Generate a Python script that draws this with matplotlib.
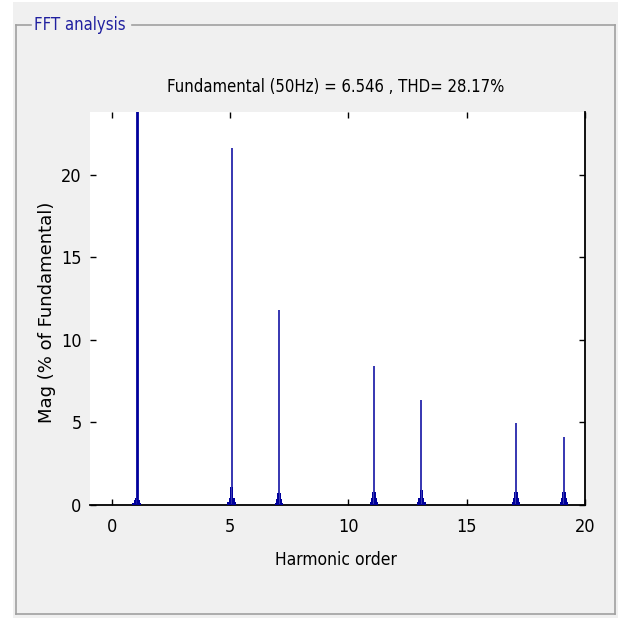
import matplotlib
matplotlib.use("Agg")
import matplotlib.pyplot as plt
from matplotlib.patches import Rectangle
from matplotlib.lines import Line2D
from matplotlib import font_manager

# ---- data ----
harmonics = [1, 5, 7, 11, 13, 17, 19]
peak_positions = [1.04, 5.06, 7.07, 11.07, 13.08, 17.08, 19.1]
magnitudes = [100.0, 21.6, 11.8, 8.4, 6.35, 4.95, 4.1]
skirt_inner = [0.4, 1.1, 0.7, 0.8, 0.9, 0.8, 0.8]
skirt_mid = [0.3, 0.4, 0.35, 0.4, 0.4, 0.45, 0.4]
skirt_outer = [0.15, 0.2, 0.15, 0.2, 0.2, 0.2, 0.2]
x_ticks = [0, 5, 10, 15, 20]
y_ticks = [0, 5, 10, 15, 20]
title_text = "Fundamental (50Hz) = 6.546 , THD= 28.17%"
panel_title = "FFT analysis"
x_label = "Harmonic order"
y_label = "Mag (% of Fundamental)"

names = {f.name for f in font_manager.fontManager.ttflist}
if "Liberation Sans Narrow" in names:
    NARROW = dict(family="Liberation Sans Narrow")
else:
    NARROW = dict(family="DejaVu Sans", stretch="condensed")

BLUE = "#00009C"

W, H = 618, 621
fig = plt.figure(figsize=(W / 100, H / 100), dpi=100, facecolor="white")

def fx(px):
    return px / W

def fy(py):
    return 1 - py / H

# gray panel background
fig.patches.append(Rectangle((fx(13), fy(618)), fx(618) - fx(13), fy(2) - fy(618),
                             transform=fig.transFigure, facecolor="#F0F0F0",
                             edgecolor="none", zorder=-5))
# group box lines
gc = "#A0A0A0"
for xs, ys in (([16, 16], [25, 614]), ([16, 615], [614, 614]), ([615, 615], [25, 614]),
               ([16, 31], [25, 25]), ([132, 615], [25, 25])):
    fig.add_artist(Line2D([fx(v) for v in xs], [fy(v) for v in ys], color=gc, lw=1.2,
                          transform=fig.transFigure, zorder=-4))
fig.text(fx(34), fy(25), panel_title, color="#2020A0", fontsize=12,
         va="center", ha="left", **NARROW)

ax = fig.add_axes([fx(90), fy(505), fx(585) - fx(90), fy(112) - fy(505)])
ax.set_zorder(2)
ax.set_facecolor("white")

offsets = [0.05, 0.10, 0.15]
for h, p, m, a, b, c in zip(harmonics, peak_positions, magnitudes,
                            skirt_inner, skirt_mid, skirt_outer):
    lw = 2.0 if h == 1 else 1.1
    ax.vlines(p, 0, m, color=BLUE, lw=lw, zorder=3)
    for off, val in zip(offsets, (a, b, c)):
        ax.bar([p - off, p + off], [val, val], width=0.055, color=BLUE, linewidth=0, zorder=3)

ax.set_xlim(-0.93, 20)
ax.set_ylim(0, 23.8)
ax.set_xticks(x_ticks)
ax.set_yticks(y_ticks)
ax.tick_params(direction="in", length=4.5, width=1, top=True, right=True,
               labelsize=13, colors="black")
ax.tick_params(axis="y", pad=6)
ax.tick_params(axis="x", pad=9)
for lab in ax.get_xticklabels() + ax.get_yticklabels():
    lab.set_family(NARROW["family"])
    if "stretch" in NARROW:
        lab.set_stretch(NARROW["stretch"])
ax.spines["left"].set_visible(False)
ax.spines["top"].set_visible(False)
ax.spines["right"].set_color("black")
ax.spines["bottom"].set_color("black")
ax.spines["right"].set_linewidth(1.3)
ax.spines["bottom"].set_linewidth(1.3)

fig.text(fx(336), fy(87), title_text, fontsize=12, ha="center", va="center", **NARROW)
fig.text(fx(336), fy(560), x_label, fontsize=12.5, ha="center", va="center", **NARROW)
fig.text(fx(47), fy(312), y_label, fontsize=13, family="DejaVu Sans", rotation=90,
         ha="center", va="center")

fig.savefig("out.png", dpi=100, facecolor=fig.get_facecolor())
